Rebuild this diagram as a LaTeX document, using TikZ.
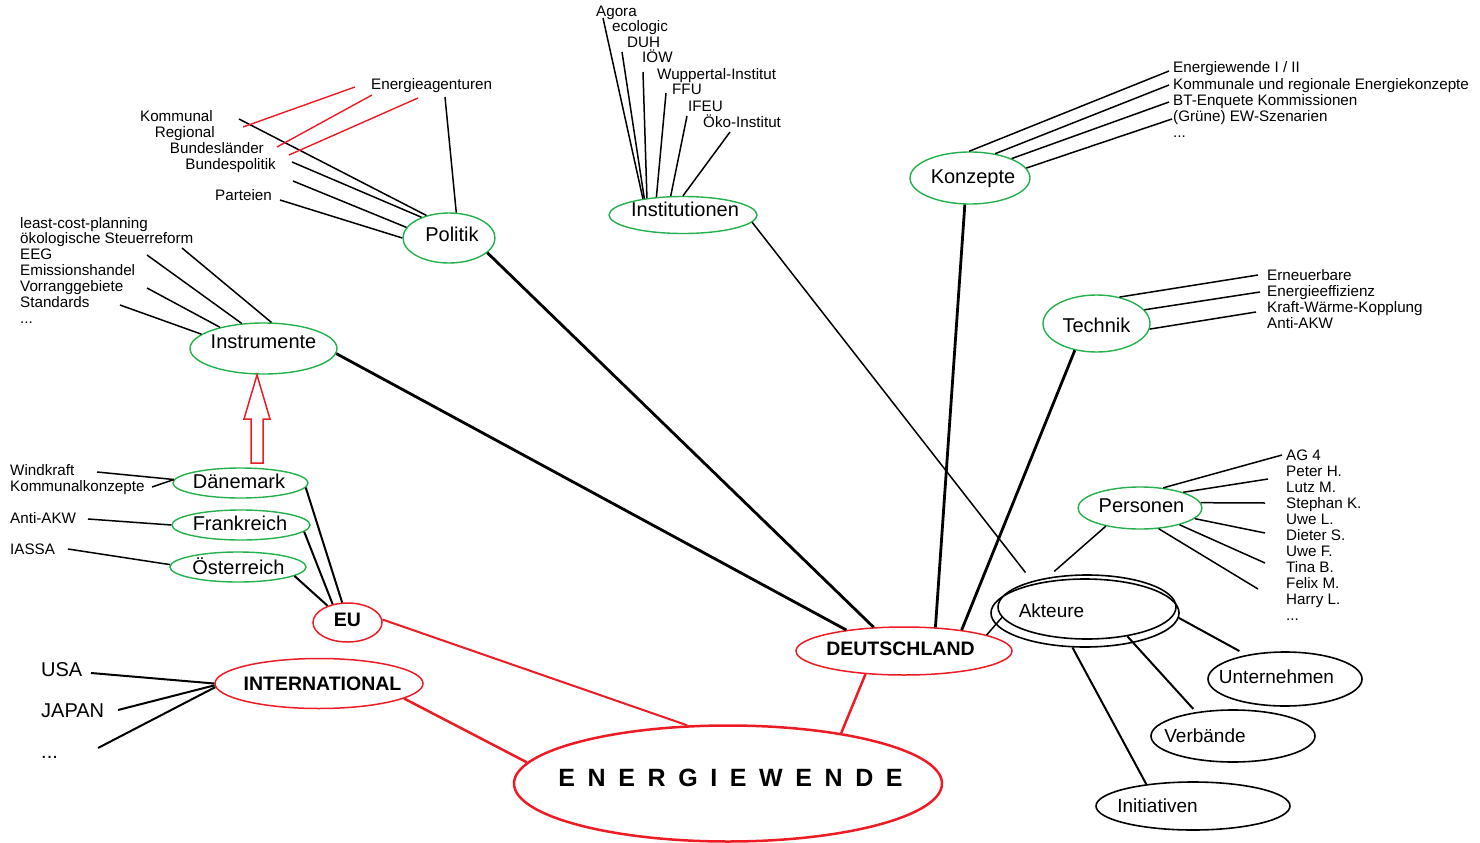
\documentclass[tikz,border=0pt]{standalone}
\usepackage{fontspec}
\setmainfont{Liberation Sans}
\usetikzlibrary{shapes.geometric,calc}
\definecolor{egreen}{RGB}{34,177,76}
\definecolor{ered}{RGB}{237,28,36}
\newcommand\ewsp{\hspace{12.6pt}}
\begin{document}
\begin{tikzpicture}[x=1pt,y=-1pt,
 gell/.style={ellipse, draw=egreen, line width=1.4pt, inner sep=0pt},
 rell/.style={ellipse, draw=ered, line width=1.5pt, inner sep=0pt},
 bell/.style={ellipse, draw=black, line width=1.6pt, inner sep=0pt},
 gtxt/.style={font=\fontsize{20}{24}\selectfont, inner sep=0pt},
 btxt/.style={font=\fontsize{19}{23}\selectfont, inner sep=0pt},
 rtxt/.style={font=\fontsize{19.5}{23}\selectfont\bfseries, inner sep=0pt},
 sl/.style={font=\fontsize{15.2}{16}\selectfont, inner sep=0pt, anchor=base west},
 sr/.style={font=\fontsize{15.2}{16}\selectfont, inner sep=0pt, anchor=base east},
 ll/.style={font=\fontsize{20}{24}\selectfont, inner sep=0pt, anchor=base west},
 con/.style={line width=1.5pt},
 thk/.style={line width=2.8pt},
 mcon/.style={line width=2pt},
 rcon/.style={draw=ered, line width=2pt},
 rthin/.style={draw=ered, line width=1.4pt},
]
\useasboundingbox (0,0) rectangle (1480,843);

% ---------- ellipse nodes ----------
\node[gell, minimum width=92pt, minimum height=50pt, label={[gtxt, xshift=3pt, yshift=4pt]center:Politik}] (politik) at (449,238) {};
\node[gell, minimum width=148pt, minimum height=37pt, label={[gtxt, xshift=2pt, yshift=6pt]center:Institutionen}] (instit) at (683,215) {};
\node[gell, minimum width=120pt, minimum height=52pt, label={[gtxt, xshift=3pt, yshift=-1pt]center:Konzepte}] (konzepte) at (970,178) {};
\node[gell, minimum width=107pt, minimum height=57pt, label={[gtxt, xshift=0pt, yshift=-1.5pt]center:Technik}] (technik) at (1096.5,323.5) {};
\node[gell, minimum width=147pt, minimum height=51pt, label={[gtxt, yshift=6.5pt]center:Instrumente}] (instr) at (263.5,348.5) {};
\node[gell, minimum width=135pt, minimum height=30pt, label={[gtxt, xshift=-1.5pt, yshift=2pt]center:Dänemark}] (daen) at (240.5,483) {};
\node[gell, minimum width=138pt, minimum height=30pt, label={[gtxt, xshift=-1pt, yshift=2pt]center:Frankreich}] (frank) at (241,525) {};
\node[gell, minimum width=136pt, minimum height=30pt, label={[gtxt, xshift=0.5pt, yshift=1pt]center:Österreich}] (oest) at (238,567) {};
\node[gell, minimum width=124pt, minimum height=42pt, label={[gtxt, xshift=1.5pt, yshift=2pt]center:Personen}] (personen) at (1140,508) {};

\node[rell, minimum width=69pt, minimum height=39pt, label={[rtxt, yshift=3pt]center:EU}] (eu) at (347.5,622.5) {};
\node[rell, minimum width=208pt, minimum height=50pt, label={[rtxt, xshift=3.5pt]center:INTERNATIONAL}] (intl) at (319,683.5) {};
\node[rell, minimum width=216pt, minimum height=48pt, label={[rtxt, xshift=-3.5pt, yshift=2pt]center:DEUTSCHLAND}] (de) at (904,651) {};
\node[ellipse, draw=ered, line width=2.5pt, inner sep=0pt, minimum width=428pt, minimum height=116pt,
      label={[font=\fontsize{25}{30}\selectfont\bfseries, inner sep=0pt, xshift=2.5pt, yshift=5.5pt]center:E\ewsp N\ewsp E\ewsp R\ewsp G\ewsp I\ewsp E\ewsp W\ewsp E\ewsp N\ewsp D\ewsp E}] (ew) at (728,783.5) {};

\node[bell, minimum width=188pt, minimum height=68pt] (akteureouter) at (1085,613) {};
\node[bell, minimum width=178pt, minimum height=64pt, label={[btxt, xshift=-35.5pt, yshift=-4pt]center:Akteure}] (akteure) at (1087,607) {};
\node[bell, minimum width=154pt, minimum height=54pt, label={[btxt, xshift=-8.5pt, yshift=2pt]center:Unternehmen}] (unternehmen) at (1285,679) {};
\node[bell, minimum width=164pt, minimum height=52pt, label={[btxt, xshift=-28pt]center:Verbände}] (verbaende) at (1233,736) {};
\node[bell, minimum width=194pt, minimum height=48pt, label={[btxt, xshift=-35.5pt]center:Initiativen}] (initiativen) at (1193,806) {};

% ---------- text labels ----------
% Politik
\node[sr] (lkom) at (213,121) {Kommunal};
\node[sr] (lreg) at (215,137) {Regional};
\node[sr] (lbl) at (264,153) {Bundesländer};
\node[sr] (lbp) at (276,169) {Bundespolitik};
\node[sr] (lpar) at (272,200) {Parteien};
\node[sl] (lea) at (371,89) {Energieagenturen};
% Institutionen
\node[sl] (lago) at (596,17) {Agora};
\node[sl] (leco) at (612,32) {ecologic};
\node[sl] (lduh) at (627,48) {DUH};
\node[sl] (liow) at (642,63) {IÖW};
\node[sl] (lwup) at (657,79) {Wuppertal-Institut};
\node[sl] (lffu) at (672,95) {FFU};
\node[sl] (lifeu) at (688,111) {IFEU};
\node[sl] (loeko) at (703,127) {Öko-Institut};
% Konzepte
\node[sl] (lk1) at (1173,73) {Energiewende I / II};
\node[sl] (lk2) at (1173,89) {Kommunale und regionale Energiekonzepte};
\node[sl] (lk3) at (1173,105) {BT-Enquete Kommissionen};
\node[sl] (lk4) at (1173,121) {(Grüne) EW-Szenarien};
\node[sl] (lk5) at (1173,137) {...};
% Technik
\node[sl] (lt1) at (1267,280) {Erneuerbare};
\node[sl] (lt2) at (1267,296) {Energieeffizienz};
\node[sl] (lt3) at (1267,312) {Kraft-Wärme-Kopplung};
\node[sl] (lt4) at (1267,328) {Anti-AKW};
% Instrumente
\node[sl] (li1) at (20,228) {least-cost-planning};
\node[sl] (li2) at (20,243) {ökologische Steuerreform};
\node[sl] (li3) at (20,259) {EEG};
\node[sl] (li4) at (20,275) {Emissionshandel};
\node[sl] (li5) at (20,291) {Vorranggebiete};
\node[sl] (li6) at (20,307) {Standards};
\node[sl] (li7) at (20,323) {...};
% Countries
\node[sl] (lwind) at (10,475) {Windkraft};
\node[sl] (lkomk) at (10,491) {Kommunalkonzepte};
\node[sl] (lakw) at (10,523) {Anti-AKW};
\node[sl] (liassa) at (10,554) {IASSA};
% Personen
\node[sl] (lp1) at (1286,460) {AG 4};
\node[sl] (lp2) at (1286,476) {Peter H.};
\node[sl] (lp3) at (1286,492) {Lutz M.};
\node[sl] (lp4) at (1286,508) {Stephan K.};
\node[sl] (lp5) at (1286,524) {Uwe L.};
\node[sl] (lp6) at (1286,540) {Dieter S.};
\node[sl] (lp7) at (1286,556) {Uwe F.};
\node[sl] (lp8) at (1286,572) {Tina B.};
\node[sl] (lp9) at (1286,588) {Felix M.};
\node[sl] (lp10) at (1286,604) {Harry L.};
\node[sl] (lp11) at (1286,620) {...};
% International
\node[ll] (lusa) at (41,676) {USA};
\node[ll] (ljap) at (41,717) {JAPAN};
\node[ll] (ldots) at (41,758) {...};

% ---------- free line ends ----------
\coordinate (pk) at (239,119);
\coordinate (pb1) at (292,162);
\coordinate (pb2) at (293,181);
\coordinate (pp) at (280,200);
\coordinate (pe) at (445,97);
\coordinate (r1a) at (355,87);  \coordinate (r1b) at (243,127);
\coordinate (r2a) at (372,95);  \coordinate (r2b) at (277,147);
\coordinate (r3a) at (418,98);  \coordinate (r3b) at (289,155);

\coordinate (in1) at (603,18);
\coordinate (in2) at (622,52);
\coordinate (in3) at (643,72);
\coordinate (in4) at (666,93);
\coordinate (in5) at (687,116);
\coordinate (in6) at (730,132);

\coordinate (ko1) at (1169,71);
\coordinate (ko2) at (1169,85);
\coordinate (ko3) at (1169,102);
\coordinate (ko4) at (1172,119);

\coordinate (te1) at (1258,275);
\coordinate (te2) at (1260,292);
\coordinate (te3) at (1256,312);

\coordinate (is1) at (182,248);
\coordinate (is2) at (147,255);
\coordinate (is3) at (147,288);
\coordinate (is4) at (120,305);

\coordinate (cw) at (97,472);
\coordinate (ck) at (152,487);
\coordinate (ca) at (88,519);
\coordinate (ci) at (68,549);

\coordinate (pe1) at (1282,455);
\coordinate (pe2) at (1268,479);
\coordinate (pe3) at (1265,503);
\coordinate (pe4) at (1265,533);
\coordinate (pe5) at (1265,563);
\coordinate (pe6) at (1258,589);

\coordinate (cusa) at (91,673);
\coordinate (cjap) at (118,710);
\coordinate (cdot) at (98,748);

% ---------- connectors ----------
% Politik
\draw[con] (pk) -- (politik.135);
\draw[con] (pb1) -- (politik.143.2);
\draw[con] (pb2) -- (politik.166.4);
\draw[con] (pp) -- (politik.180);
\draw[con] (pe) -- (politik.74.2);
\draw[rthin] (r1a) -- (r1b);
\draw[rthin] (r2a) -- (r2b);
\draw[rthin] (r3a) -- (r3b);
% Institutionen
\draw[con] (in1) -- (instit.158.7);
\draw[con] (in2) -- (instit.157.3);
\draw[con] (in3) -- (instit.155.8);
\draw[con] (in4) -- (instit.146.4);
\draw[con] (in5) -- (instit.123.3);
\draw[con] (in6) -- (instit.90);
% Konzepte
\draw[con] (ko1) -- (konzepte.92);
\draw[con] (ko2) -- (konzepte.44.8);
\draw[con] (ko3) -- (konzepte.25.9);
\draw[con] (ko4) -- (konzepte.10.7);
% Technik
\draw[con] (te1) -- (technik.49);
\draw[con] (te2) -- (technik.16.9);
\draw[con] (te3) -- (technik.-6);
% Instrumente
\draw[con] (is1) -- (instr.73.5);
\draw[con] (is2) -- (instr.131.4);
\draw[con] (is3) -- (instr.154.7);
\draw[con] (is4) -- (instr.167.2);
% Countries
\draw[con] (cw) -- (daen.177);
\draw[con] (ck) -- (daen.177);
\draw[con] (ca) -- (frank.180);
\draw[con] (ci) -- (oest.178);
\draw[mcon] (daen.-4) -- (eu.105.9);
\draw[mcon] (frank.-6) -- (eu.129.3);
\draw[mcon] (oest.-9.2) -- (eu.140.4);
% Personen
\draw[con] (pe1) -- (personen.41.7);
\draw[con] (pe2) -- (personen.20.2);
\draw[con] (pe3) -- (personen.5);
\draw[con] (pe4) -- (personen.-11.7);
\draw[con] (pe5) -- (personen.-23.2);
\draw[con] (pe6) -- (personen.-48.2);
\draw[con, shorten >=16pt] (personen.-152.6) -- (akteureouter.144.3);
% International
\draw[mcon] (cusa) -- (intl.180);
\draw[mcon] (cjap) -- (intl.181);
\draw[mcon] (cdot) -- (intl.182);
% Deutschland
\draw[thk] (politik.-21.9) -- (de.142.4);
\draw[thk] (instr.-4.7) -- (de.160.8);
\draw[thk] (konzepte.-101) -- (de.37.6);
\draw[thk] (technik.-129.5) -- (de.20.6);
\draw[con, shorten >=14pt] (instit.-6) -- (akteureouter.150.4);
\draw[con] (akteure.187) -- (de.11.4);
% Akteure
\draw[mcon, shorten >=8pt] (akteureouter.-3) -- (unternehmen.148);
\draw[mcon, shorten >=4pt] (akteure.-36.6) -- (verbaende.147);
\draw[mcon] (akteureouter.-110.6) -- (initiativen.155.9);
% Energiewende
\draw[rcon] (eu.5) -- (ew.125.8);
\draw[rcon, line width=2.5pt] (de.-149.4) -- (ew.24.9);
\draw[rcon, line width=2.5pt] (intl.-10.3) -- (ew.174.8);

% ---------- hollow arrow Dänemark -> Instrumente ----------
\coordinate (atip) at (257,375);
\draw[ered, line width=1.5pt, line join=miter]
  (atip) -- ($(atip)+(13,44)$) -- ($(atip)+(6,44)$) -- ($(atip)+(6,88)$)
  -- ($(atip)+(-6,88)$) -- ($(atip)+(-6,44)$) -- ($(atip)+(-13,44)$) -- cycle;
\end{tikzpicture}
\end{document}
